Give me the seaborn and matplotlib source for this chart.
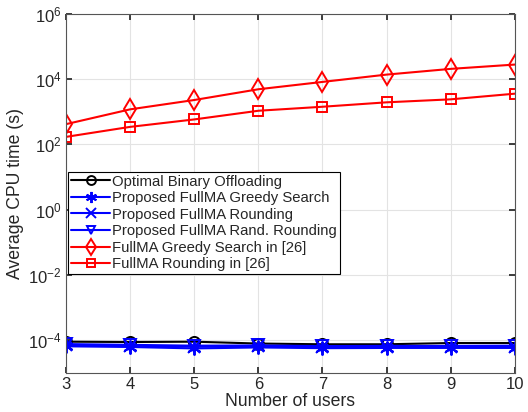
import numpy as np
import pandas as pd
import matplotlib
matplotlib.use("Agg")
import matplotlib.pyplot as plt
import seaborn as sns

# -----------------------------------------------------
users = [3, 4, 5, 6, 7, 8, 9, 10]

optimal_binary = [9.0e-5, 8.8e-5, 9.0e-5, 7.9e-5, 7.5e-5, 7.5e-5, 8.2e-5, 8.2e-5]
prop_greedy = [6.5e-5, 6.2e-5, 5.6e-5, 6.0e-5, 5.7e-5, 5.8e-5, 5.8e-5, 5.8e-5]
prop_rounding = [7.2e-5, 6.8e-5, 6.3e-5, 6.5e-5, 6.2e-5, 6.3e-5, 6.3e-5, 6.3e-5]
prop_rand_round = [7.6e-5, 7.2e-5, 6.8e-5, 6.9e-5, 6.6e-5, 6.7e-5, 6.7e-5, 6.8e-5]
greedy_26 = [412, 1170, 2260, 4820, 8090, 13560, 20300, 27500]
rounding_26 = [168, 340, 575, 1060, 1405, 1920, 2370, 3530]

labels = [
    "Optimal Binary Offloading",
    "Proposed FullMA Greedy Search",
    "Proposed FullMA Rounding",
    "Proposed FullMA Rand. Rounding",
    "FullMA Greedy Search in [26]",
    "FullMA Rounding in [26]",
]

# -----------------------------------------------------
series = [optimal_binary, prop_greedy, prop_rounding, prop_rand_round, greedy_26, rounding_26]
rows = []
for lab, vals in zip(labels, series):
    for u, v in zip(users, vals):
        rows.append([lab, u, v])
df = pd.DataFrame(rows, columns=["method", "users", "cpu_time"])

colors = ["black", "blue", "blue", "blue", "red", "red"]
markers = ["o", (6, 2, 0), "x", "v", "d", "s"]
msizes = [8, 10, 9, 8, 10, 7]

sns.set_theme(style="whitegrid")
plt.rcParams["font.family"] = ["Liberation Sans", "DejaVu Sans"]

fig, ax = plt.subplots(figsize=(5.28, 4.12), dpi=100)
for lab, c, m, ms in zip(labels, colors, markers, msizes):
    sub = df[df["method"] == lab]
    sns.lineplot(data=sub, x="users", y="cpu_time", ax=ax, color=c, marker=m,
                 markersize=ms, markerfacecolor="none", markeredgecolor=c,
                 markeredgewidth=1.4, linewidth=1.5, legend=False)

ax.set_yscale("log")
ax.set_ylim(1e-5, 1e6)
ax.set_xlim(3, 10)
ax.set_yticks([1e-4, 1e-2, 1e0, 1e2, 1e4, 1e6])
ax.set_xticks(users)
ax.minorticks_off()
ax.grid(True, color="#e3e3e3", linewidth=0.8)
ax.set_facecolor("white")
for s in ax.spines.values():
    s.set_color("#555555")
    s.set_linewidth(0.8)
ax.tick_params(direction="in", length=4, colors="#262626", labelsize=12,
               top=True, right=True, left=True, bottom=True, pad=3)
ax.set_xlabel("Number of users", fontsize=12.7, color="#262626", labelpad=1)
ax.set_ylabel("Average CPU time (s)", fontsize=12.7, color="#262626", labelpad=3)

leg = ax.legend(handles=list(ax.lines), labels=labels, loc="upper left",
                bbox_to_anchor=(0.005, 0.56), fontsize=10.7, markerscale=0.8,
                frameon=True, fancybox=False, edgecolor="black", framealpha=1,
                handlelength=2.6, handletextpad=0.15, borderpad=0.2, labelspacing=0.17,
                borderaxespad=0)
leg.get_frame().set_linewidth(0.8)

plt.subplots_adjust(left=0.125, right=0.975, top=0.967, bottom=0.095)
plt.savefig("out.png", dpi=100)
